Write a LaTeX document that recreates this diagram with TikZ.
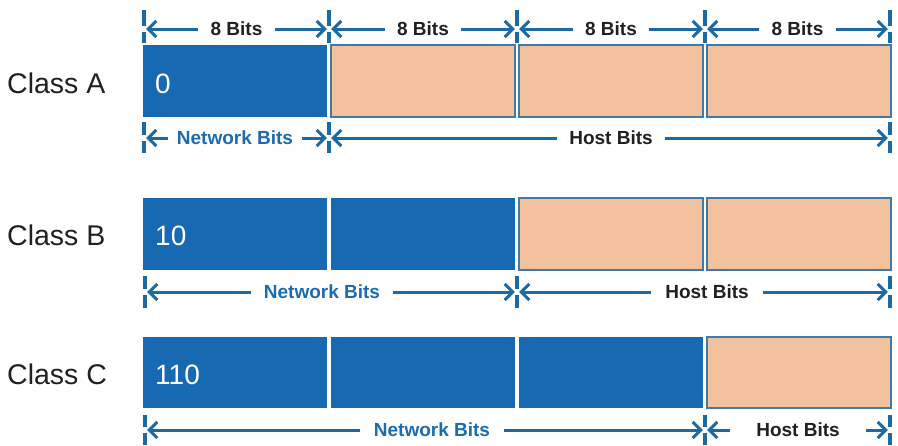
\documentclass[tikz,border=0pt]{standalone}
\usepackage{fontspec}
\setmainfont{Liberation Sans}
\usetikzlibrary{arrows.meta}
\definecolor{boxblue}{HTML}{176AB2}
\definecolor{peach}{HTML}{F2C29F}
\definecolor{peachline}{HTML}{3F7AAA}
\definecolor{linecol}{HTML}{1B6AA3}
\definecolor{nettext}{HTML}{1B6BB0}
\definecolor{darktext}{HTML}{231F20}
\begin{document}
\begin{tikzpicture}[x=1pt,y=-1pt,
  netbox/.style={fill=boxblue},
  hostbox/.style={fill=peach,draw=peachline,line width=1.2pt},
  dimline/.style={draw=linecol,line width=3pt,shorten >=2.2pt,
    -{Straight Barb[length=8pt,width=16pt,line width=3pt]}},
  dimtick/.style={draw=linecol,line width=3.6pt},
  dimtxt/.style={inner ysep=0pt,inner xsep=12pt,font=\fontsize{19}{19}\selectfont\bfseries,text=darktext},
  nettxt/.style={dimtxt,text=nettext},
  classtxt/.style={inner sep=0pt,anchor=base west,font=\fontsize{28.5}{28.5}\selectfont,text=darktext},
  numtxt/.style={inner sep=0pt,anchor=base west,font=\fontsize{28}{28}\selectfont,text=white}]
\useasboundingbox (0,0) rectangle (898,445);

% ---------- boxes ----------
% Class A
\path[netbox]  (143,45) rectangle (327,117);
\path[hostbox] (331,45) rectangle (515,117);
\path[hostbox] (519,45) rectangle (703,117);
\path[hostbox] (707,45) rectangle (891,117);
% Class B
\path[netbox]  (143,198) rectangle (327,270);
\path[netbox]  (331,198) rectangle (515,270);
\path[hostbox] (519,198) rectangle (703,270);
\path[hostbox] (707,198) rectangle (891,270);
% Class C
\path[netbox]  (143,337) rectangle (327,408);
\path[netbox]  (331,337) rectangle (515,408);
\path[netbox]  (519,337) rectangle (703,408);
\path[hostbox] (707,337) rectangle (891,408);

% ---------- labels ----------
\node[classtxt] (ca) at (7,93) {Class A};
\node[classtxt] (cb) at (7,245) {Class B};
\node[classtxt] (cc) at (7,384) {Class C};
\node[numtxt] (na) at (155,93) {0};
\node[numtxt] (nb) at (155,245) {10};
\node[numtxt] (nc) at (155,384) {110};

% ---------- top dimension row ----------
\foreach \x in {144,329,517,705,890}{
  \draw[dimtick] (\x,10) -- (\x,26) (\x,32) -- (\x,43);
}
\coordinate (t0) at (144,29);
\coordinate (t1) at (329,29);
\coordinate (t2) at (517,29);
\coordinate (t3) at (705,29);
\coordinate (t4) at (890,29);
\node[dimtxt] (b1) at (236.5,29) {8 Bits};
\node[dimtxt] (b2) at (423,29) {8 Bits};
\node[dimtxt] (b3) at (611,29) {8 Bits};
\node[dimtxt] (b4) at (797.5,29) {8 Bits};
\draw[dimline] (b1.west) -- (t0);
\draw[dimline] (b1.east) -- (t1);
\draw[dimline] (b2.west) -- (t1);
\draw[dimline] (b2.east) -- (t2);
\draw[dimline] (b3.west) -- (t2);
\draw[dimline] (b3.east) -- (t3);
\draw[dimline] (b4.west) -- (t3);
\draw[dimline] (b4.east) -- (t4);

% ---------- Class A lower ----------
\foreach \x in {144,329,890}{
  \draw[dimtick] (\x,122) -- (\x,135) (\x,141) -- (\x,153);
}
\coordinate (a0) at (144,138);
\coordinate (a1) at (329,138);
\coordinate (a2) at (890,138);
\node[nettxt,inner xsep=9pt] (anet) at (235,138) {Network Bits};
\node[dimtxt] (ahost) at (611,138) {Host Bits};
\draw[dimline] (anet.west) -- (a0);
\draw[dimline] (anet.east) -- (a1);
\draw[dimline] (ahost.west) -- (a1);
\draw[dimline] (ahost.east) -- (a2);

% ---------- Class B lower ----------
\foreach \x in {145,517,890}{
  \draw[dimtick] (\x,276) -- (\x,289) (\x,295) -- (\x,308);
}
\coordinate (p0) at (145,292);
\coordinate (p1) at (517,292);
\coordinate (p2) at (890,292);
\node[nettxt,inner xsep=13pt] (bnet) at (322,292) {Network Bits};
\node[dimtxt,inner xsep=14pt] (bhost) at (707,292) {Host Bits};
\draw[dimline] (bnet.west) -- (p0);
\draw[dimline] (bnet.east) -- (p1);
\draw[dimline] (bhost.west) -- (p1);
\draw[dimline] (bhost.east) -- (p2);

% ---------- Class C lower ----------
\foreach \x in {145,705,890}{
  \draw[dimtick] (\x,415) -- (\x,427) (\x,433) -- (\x,445);
}
\coordinate (q0) at (145,430);
\coordinate (q1) at (705,430);
\coordinate (q2) at (890,430);
\node[nettxt,inner xsep=14pt] (cnet) at (432,430) {Network Bits};
\node[dimtxt,inner xsep=26pt] (chost) at (798,430) {Host Bits};
\draw[dimline] (cnet.west) -- (q0);
\draw[dimline] (cnet.east) -- (q1);
\draw[dimline] (chost.west) -- (q1);
\draw[dimline] (chost.east) -- (q2);
\end{tikzpicture}
\end{document}
